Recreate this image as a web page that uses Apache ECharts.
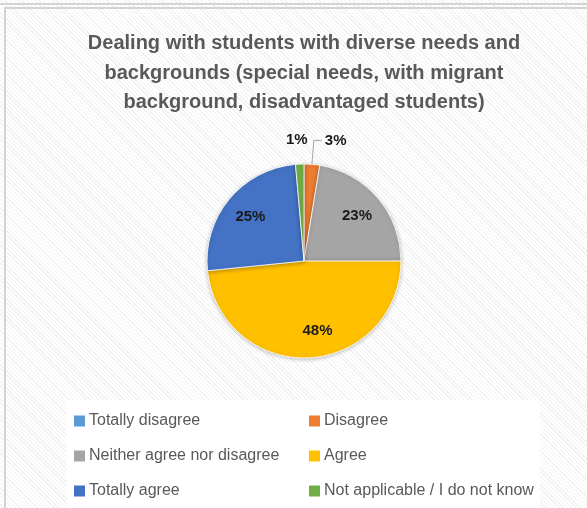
<!DOCTYPE html>
<html>
<head>
<meta charset="utf-8">
<style>
    html, body {
        margin: 0;
        padding: 0;
    }
    body {
        width: 587px;
        height: 508px;
        overflow: hidden;
        background: repeating-linear-gradient(45deg, #ffffff 0px, #ffffff 2px, #f1f1f1 2px, #f1f1f1 3px);
        position: relative;
    }
    .frame-top {
        position: absolute;
        left: 0; top: 3px; width: 587px; height: 2px;
        background: #d4d4d4;
    }
    .frame-top2 {
        position: absolute;
        left: 5px; top: 7px; width: 582px; height: 2px;
        background: #d4d4d4;
    }
    .frame-left {
        position: absolute;
        left: 4px; top: 7px; width: 2px; height: 501px;
        background: #d4d4d4;
    }
    #echarts {
        position: absolute;
        left: 0; top: 0;
        width: 587px;
        height: 508px;
    }
</style>
</head>
<body>
<div class="frame-top"></div>
<div class="frame-top2"></div>
<div class="frame-left"></div>
<div id="echarts"></div>
<script src="https://cdn.jsdelivr.net/npm/echarts@6/dist/echarts.min.js"></script>
<script>
    // 数据
    const categories = ['Totally disagree', 'Disagree', 'Neither agree nor disagree', 'Agree', 'Totally agree', 'Not applicable / I do not know'];
    const values = [0, 2.6, 22.4, 48.4, 25.2, 1.4];
    const percentLabels = ['', '3%', '23%', '48%', '25%', '1%'];
    const colors = ['#5B9BD5', '#ED7D31', '#A5A5A5', '#FFC000', '#4472C4', '#70AD47'];
    const titleLines = [
        'Dealing with students with diverse needs and',
        'backgrounds (special needs, with migrant',
        'background, disadvantaged students)'
    ];

    const insideIdx = [2, 3, 4];
    const fontFamily = '"Liberation Sans", Arial, sans-serif';

    let myChart = echarts.init(document.getElementById('echarts'), null, {renderer: 'canvas'});

    // 扇区
    let pieData = categories.map(function (name, i) {
        let item = {
            name: name,
            value: values[i],
            itemStyle: {color: colors[i]},
            label: {show: false},
            labelLine: {show: false}
        };
        if (i === 1) {
            item.label = {show: true};
            item.labelLine = {show: true, length: 24, length2: 8};
        }
        if (i === 5) {
            item.label = {show: true};
            item.labelLine = {show: false, length: 24, length2: 0};
        }
        return item;
    });

    // 内部标签
    let labelData = categories.map(function (name, i) {
        return {
            name: name,
            value: values[i],
            itemStyle: {color: 'rgba(0,0,0,0)'},
            label: {show: insideIdx.indexOf(i) >= 0}
        };
    });

    let legendBase = {
        orient: 'vertical',
        top: 413,
        padding: 0,
        itemWidth: 11,
        itemHeight: 11,
        itemGap: 19,
        icon: 'rect',
        selectedMode: false,
        itemStyle: {borderWidth: 0, shadowBlur: 0},
        textStyle: {fontFamily: fontFamily, fontSize: 16, color: '#595959', lineHeight: 16, padding: [0, 0, 0, -1]}
    };

    let option = {
        animation: false,
        backgroundColor: 'transparent',
        color: colors,
        title: {
            text: titleLines.join('\n'),
            left: 304,
            top: 29,
            padding: 0,
            textAlign: 'center',
            textStyle: {
                fontFamily: fontFamily,
                fontSize: 20,
                fontWeight: 'bold',
                color: '#595959',
                lineHeight: 29.5
            }
        },
        graphic: [{
            type: 'rect',
            shape: {x: 67, y: 400, width: 473, height: 108},
            style: {fill: '#ffffff'},
            z: -1
        }],
        legend: [
            Object.assign({}, legendBase, {left: 74, data: [categories[0], categories[2], categories[4]]}),
            Object.assign({}, legendBase, {left: 309, data: [categories[1], categories[3], categories[5]]})
        ],
        series: [{
            type: 'pie',
            center: [304, 261],
            radius: 97,
            startAngle: 90,
            clockwise: true,
            avoidLabelOverlap: false,
            itemStyle: {
                borderColor: '#ffffff',
                borderWidth: 0.8,
                shadowBlur: 4,
                shadowOffsetY: 1,
                shadowColor: 'rgba(0,0,0,0.25)'
            },
            label: {
                position: 'outside',
                formatter: function (p) {
                    return percentLabels[p.dataIndex];
                },
                fontFamily: fontFamily,
                fontSize: 15,
                fontWeight: 'bold',
                color: '#1a1a1a',
                distanceToLabelLine: 3
            },
            labelLine: {
                lineStyle: {color: '#a6a6a6', width: 1}
            },
            labelLayout: function (params) {
                if (params.dataIndex === 5) {
                    return {dx: 12};
                }
            },
            data: pieData
        }, {
            type: 'pie',
            center: [304, 261],
            radius: [36, 97],
            startAngle: 90,
            clockwise: true,
            silent: true,
            avoidLabelOverlap: false,
            label: {
                position: 'inside',
                formatter: function (p) {
                    return percentLabels[p.dataIndex];
                },
                fontFamily: fontFamily,
                fontSize: 15,
                fontWeight: 'bold',
                color: '#1a1a1a'
            },
            labelLine: {show: false},
            labelLayout: function (params) {
                if (params.dataIndex === 3) {
                    return {dx: 10};
                }
            },
            data: labelData
        }]
    };

    myChart.setOption(option);
</script>
</body>
</html>
